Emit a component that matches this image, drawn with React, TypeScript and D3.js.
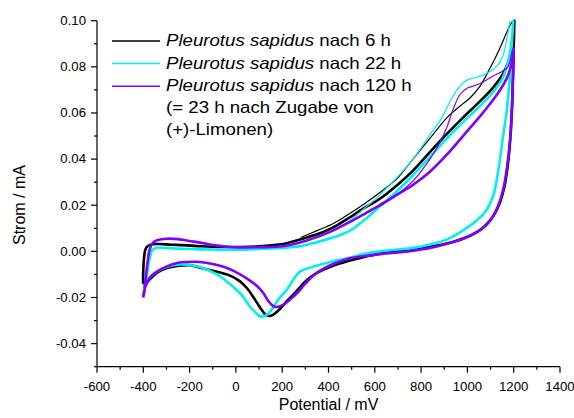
import React from "react";
import * as d3 from "d3";

type P = [number, number];

const xTicks = [-600, -400, -200, 0, 200, 400, 600, 800, 1000, 1200, 1400];
const yTicks = [-0.04, -0.02, 0.0, 0.02, 0.04, 0.06, 0.08, 0.1];
const yLabels = ["-0.04", "-0.02", "0.00", "0.02", "0.04", "0.06", "0.08", "0.10"];

const blackAnodic: P[] = [[-401,-0.0140],[-400,-0.0080],[-397,-0.0030],[-392,0.0005],[-382,0.0022],[-360,0.0031],[-330,0.0032],[-280,0.0029],[-228,0.0027],[-150,0.0022],[-60,0.0019],[20,0.0019],[100,0.0022],[203,0.0032],[300,0.0058],[380,0.0085],[440,0.0115],[493,0.0148],[550,0.0185],[622,0.0228],[700,0.0290],[765,0.0350],[838,0.0430],[912,0.0510],[981,0.0580],[1054,0.0650],[1111,0.0710],[1154,0.0770],[1180,0.0830],[1195,0.0910],[1203,0.1000]];
const blackCathodic: P[] = [[1203,0.1000],[1200,0.0880],[1196,0.0720],[1191,0.0580],[1184,0.0470],[1174,0.0370],[1160,0.0280],[1140,0.0210],[1110,0.0150],[1070,0.0105],[1020,0.0072],[950,0.0045],[870,0.0025],[780,0.0010],[700,0.0000],[622,-0.0010],[550,-0.0025],[493,-0.0040],[420,-0.0062],[350,-0.0093],[300,-0.0130],[260,-0.0175],[221,-0.0215],[190,-0.0250],[165,-0.0272],[147,-0.0280],[128,-0.0274],[110,-0.0252],[91,-0.0223],[70,-0.0190],[48,-0.0160],[18,-0.0130],[-30,-0.0103],[-82,-0.0088],[-150,-0.0072],[-198,-0.0060],[-254,-0.0063],[-298,-0.0072],[-341,-0.0092],[-371,-0.0120],[-392,-0.0140],[-401,-0.0140]];
const blackOuter: P[] = [[280,0.0060],[350,0.0090],[419,0.0120],[493,0.0165],[560,0.0210],[622,0.0255],[700,0.0320],[765,0.0400],[838,0.0490],[912,0.0580],[968,0.0630],[1011,0.0665],[1054,0.0715],[1098,0.0795],[1140,0.0880],[1170,0.0950],[1193,0.0995],[1203,0.1003]];

const cyanAnodic: P[] = [[-398,-0.0160],[-388,-0.0120],[-378,-0.0060],[-371,-0.0025],[-364,0.0000],[-356,0.0010],[-340,0.0016],[-280,0.0013],[-200,0.0010],[-100,0.0008],[-13,0.0007],[100,0.0010],[200,0.0015],[277,0.0022],[350,0.0040],[419,0.0060],[493,0.0090],[560,0.0140],[622,0.0195],[700,0.0265],[765,0.0330],[838,0.0410],[912,0.0490],[981,0.0560],[1054,0.0630],[1111,0.0690],[1154,0.0755],[1180,0.0840],[1192,0.0920],[1198,0.1000]];
const cyanCathodic: P[] = [[1198,0.1000],[1192,0.0900],[1182,0.0740],[1170,0.0610],[1154,0.0500],[1135,0.0360],[1111,0.0240],[1080,0.0175],[1041,0.0135],[980,0.0090],[912,0.0052],[838,0.0030],[765,0.0015],[690,0.0007],[622,0.0000],[550,-0.0012],[493,-0.0027],[400,-0.0048],[340,-0.0065],[277,-0.0088],[250,-0.0120],[221,-0.0165],[190,-0.0200],[168,-0.0232],[147,-0.0262],[125,-0.0280],[104,-0.0282],[85,-0.0265],[61,-0.0240],[30,-0.0195],[-13,-0.0153],[-50,-0.0122],[-82,-0.0100],[-155,-0.0068],[-210,-0.0058],[-254,-0.0058],[-300,-0.0068],[-328,-0.0080],[-360,-0.0100],[-384,-0.0125],[-398,-0.0160]];
const cyanOuter: P[] = [[419,0.0090],[493,0.0135],[560,0.0190],[622,0.0245],[700,0.0325],[765,0.0400],[838,0.0505],[890,0.0580],[925,0.0650],[955,0.0700],[981,0.0730],[1011,0.0748],[1041,0.0755],[1070,0.0765],[1098,0.0780],[1130,0.0805],[1154,0.0850],[1172,0.0930],[1184,0.1000]];

const purpleAnodic: P[] = [[-401,-0.0200],[-396,-0.0180],[-390,-0.0120],[-382,-0.0050],[-372,0.0010],[-358,0.0038],[-340,0.0048],[-298,0.0055],[-250,0.0053],[-200,0.0045],[-155,0.0038],[-80,0.0025],[-13,0.0018],[100,0.0018],[203,0.0022],[300,0.0045],[350,0.0062],[419,0.0090],[493,0.0128],[560,0.0165],[622,0.0200],[700,0.0248],[765,0.0288],[838,0.0345],[912,0.0420],[981,0.0500],[1054,0.0585],[1128,0.0680],[1170,0.0750],[1190,0.0810],[1200,0.0880]];
const purpleCathodic: P[] = [[1200,0.0880],[1197,0.0760],[1192,0.0620],[1184,0.0480],[1172,0.0370],[1155,0.0270],[1130,0.0190],[1100,0.0135],[1060,0.0095],[981,0.0055],[900,0.0030],[838,0.0015],[765,0.0003],[700,-0.0005],[622,-0.0012],[560,-0.0020],[493,-0.0030],[420,-0.0055],[350,-0.0093],[300,-0.0140],[270,-0.0175],[247,-0.0197],[215,-0.0225],[190,-0.0238],[175,-0.0241],[160,-0.0236],[140,-0.0215],[117,-0.0178],[91,-0.0150],[48,-0.0118],[0,-0.0090],[-38,-0.0072],[-100,-0.0055],[-155,-0.0046],[-210,-0.0046],[-254,-0.0050],[-298,-0.0065],[-341,-0.0088],[-371,-0.0115],[-393,-0.0158],[-401,-0.0200]];
const purpleOuter: P[] = [[622,0.0205],[700,0.0250],[765,0.0305],[838,0.0400],[880,0.0470],[912,0.0540],[940,0.0620],[968,0.0680],[1000,0.0708],[1024,0.0716],[1060,0.0730],[1111,0.0760],[1150,0.0780],[1175,0.0800],[1193,0.0870]];

const BLACK = "#000000";
const CYAN = "#00F0F0";
const PURPLE = "#8000FF";

const series = [
  { color: BLACK, loop: [...blackAnodic, ...blackCathodic], outer: blackOuter },
  { color: CYAN, loop: [...cyanAnodic, ...cyanCathodic], outer: cyanOuter },
  { color: PURPLE, loop: [...purpleAnodic, ...purpleCathodic], outer: purpleOuter },
];

const legendItems = [
  { color: BLACK, italic: "Pleurotus sapidus", rest: " nach 6 h" },
  { color: CYAN, italic: "Pleurotus sapidus", rest: " nach 22 h" },
  { color: PURPLE, italic: "Pleurotus sapidus", rest: " nach 120 h" },
];
const legendExtra = ["(= 23 h nach Zugabe von", "(+)-Limonen)"];

const FONT = "'Liberation Sans', Arial, Helvetica, sans-serif";
const SX = 1.1;
const SXL = 1.13;

export default function App() {
  const L = 97, R = 560, T = 20.7, B = 366.7;
  const x = d3.scaleLinear().domain([-600, 1400]).range([L, R]);
  const y = d3.scaleLinear().domain([-0.05, 0.1]).range([B, T]);
  const line = d3
    .line<P>()
    .x((d) => x(d[0]))
    .y((d) => y(d[1]))
    .curve(d3.curveCatmullRom.alpha(0.5));

  const xMinor = d3.range(-500, 1400, 200);
  const yMinor = [-0.05, -0.03, -0.01, 0.01, 0.03, 0.05, 0.07, 0.09];

  return (
    <svg
      width={574}
      height={418}
      style={{ position: "absolute", left: 0, top: 0, background: "#fff" }}
      fontFamily={FONT}
    >
      <rect x={0} y={0} width={574} height={418} fill="#fff" />
      {series.map((s, i) => (
        <g key={i}>
          <path d={line(s.loop) || ""} fill="none" stroke={s.color} strokeWidth={2.6} strokeLinejoin="round" />
          <path d={line(s.outer) || ""} fill="none" stroke={s.color} strokeWidth={1.2} />
        </g>
      ))}
      {/* axes */}
      <line x1={L} x2={L} y1={T} y2={B} stroke="#000" strokeWidth={1.2} />
      <line x1={L} x2={R} y1={B} y2={B} stroke="#000" strokeWidth={1.2} />
      {yTicks.map((t, i) => (
        <g key={"yt" + i}>
          <line x1={L - 6} x2={L} y1={y(t)} y2={y(t)} stroke="#000" strokeWidth={1.2} />
          <text transform={`translate(${L - 11},${y(t) + 4.3}) scale(${SX},1)`} textAnchor="end" fontSize={12} fill="#000">
            {yLabels[i]}
          </text>
        </g>
      ))}
      {yMinor.map((t, i) => (
        <line key={"ym" + i} x1={L - 3} x2={L} y1={y(t)} y2={y(t)} stroke="#000" strokeWidth={1.2} />
      ))}
      {xTicks.map((t, i) => (
        <g key={"xt" + i}>
          <line x1={x(t)} x2={x(t)} y1={B} y2={B + 6} stroke="#000" strokeWidth={1.2} />
          <text transform={`translate(${x(t)},${B + 24}) scale(${SX},1)`} textAnchor="middle" fontSize={12} fill="#000">
            {t}
          </text>
        </g>
      ))}
      {xMinor.map((t, i) => (
        <line key={"xm" + i} x1={x(t)} x2={x(t)} y1={B} y2={B + 3} stroke="#000" strokeWidth={1.2} />
      ))}
      <text transform={`translate(${(L + R) / 2},410)`} textAnchor="middle" fontSize={16} fill="#000">
        Potential / mV
      </text>
      <text transform={`translate(24.5,205) rotate(-90)`} textAnchor="middle" fontSize={16} fill="#000">
        Strom / mA
      </text>
      {/* legend */}
      {legendItems.map((it, i) => (
        <g key={"lg" + i}>
          <line x1={112} x2={160} y1={41 + i * 22.6} y2={41 + i * 22.6} stroke={it.color} strokeWidth={1.5} />
          <text transform={`translate(166,${46.3 + i * 22.4}) scale(${SXL},1)`} fontSize={16.5} fill="#000">
            <tspan fontStyle="italic">{it.italic}</tspan>
            <tspan>{it.rest}</tspan>
          </text>
        </g>
      ))}
      {legendExtra.map((t, i) => (
        <text key={"le" + i} transform={`translate(166,${112.8 + i * 21.8}) scale(${SXL},1)`} fontSize={16.5} fill="#000">
          {t}
        </text>
      ))}
    </svg>
  );
}
